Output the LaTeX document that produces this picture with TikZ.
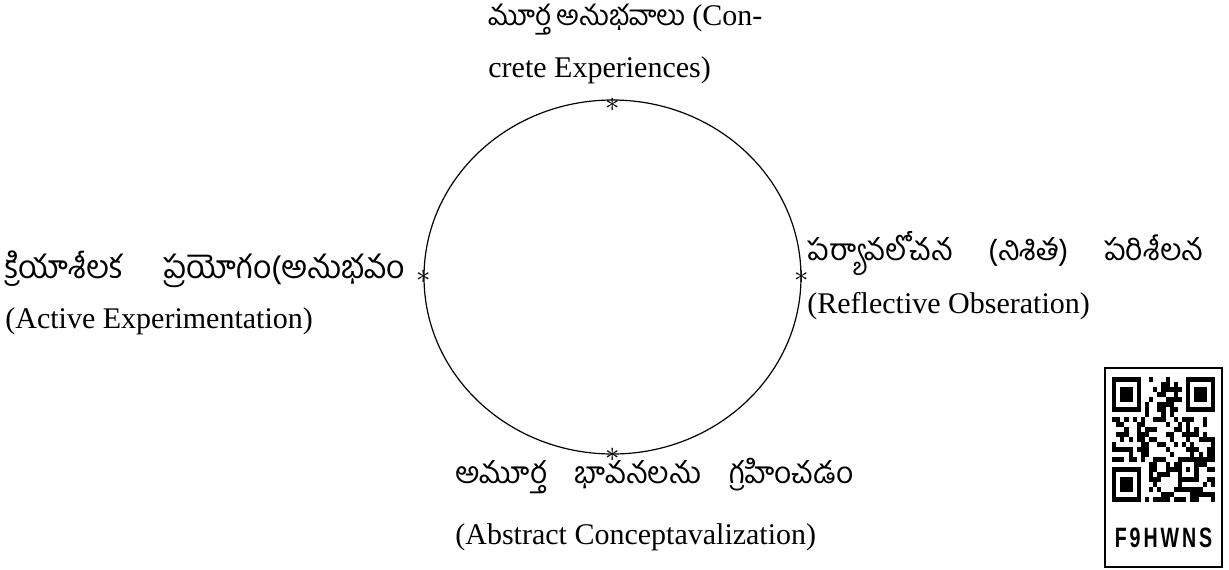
\documentclass[tikz,border=0pt]{standalone}
\usepackage{fontspec}
\setmainfont{Liberation Serif}
\newfontfamily\telugu[Script=Telugu]{Hind Guntur}
\newfontfamily\qrfont{Liberation Sans}
\usetikzlibrary{shapes.geometric}

\begin{document}
\begin{tikzpicture}[x=0.5pt,y=-0.5pt,
  lbl/.style={anchor=base west,inner sep=0pt,font=\fontsize{15}{18}\selectfont},
  starmark/.style={inner sep=0pt,font=\fontsize{15}{15}\selectfont}]
  \useasboundingbox (0,0) rectangle (1229,569);
  \node[draw,ellipse,inner sep=0pt,line width=0.6pt,
    minimum width=188.5pt,minimum height=177pt] (cycle) at (612.5,277) {};
  \foreach \a/\s in {north/-2.5pt,south/0pt,east/0pt,west/0pt}
    \node[starmark,yshift=\s] (star-\a) at (cycle.\a) {$\ast$};

  \node[lbl] (concrete) at (488,25)
    {\makebox[137pt][s]{{\telugu\fontsize{14}{18}\selectfont మూర్త అనుభవాలు} (Con-}};
  \node[lbl] (concrete2) at (488,77) {crete Experiences)};
  \node[lbl] (active) at (5,278)
    {\makebox[200pt][s]{\telugu\fontsize{16}{18}\selectfont క్రియాశీలక ప్రయోగం(అనుభవం}};
  \node[lbl] (active2) at (5,328) {(Active Experimentation)};
  \node[lbl] (reflect) at (807,260)
    {\makebox[198pt][s]{\telugu పర్యావలోచన (నిశిత) పరిశీలన}};
  \node[lbl] (reflect2) at (807,313) {(Reflective Obseration)};
  \node[lbl] (abstract) at (455,483)
    {\makebox[199pt][s]{\telugu అమూర్త భావనలను గ్రహించడం}};
  \node[lbl] (abstract2) at (455,544) {(Abstract Conceptavalization)};

  % qr code
  \draw[line width=1pt] (1105,368) rectangle (1222,567);
  \def\qx{1112} \def\qy{377} \def\qw{4.12} \def\qh{5.0}
  \pgfmathsetseed{4711}
  \foreach \i in {0,...,24}{
    \foreach \j in {0,...,24}{
      \pgfmathtruncatemacro{\qrskip}{((\i<8 && \j<8) || (\i>16 && \j<8) || (\i<8 && \j>16) || (\i>15 && \i<21 && \j>15 && \j<21)) ? 1 : 0}
      \pgfmathtruncatemacro{\qrbit}{rnd<0.5 ? 1 : 0}
      \ifnum\qrskip=0 \ifnum\qrbit=1
        \fill (\qx+\i*\qw,\qy+\j*\qh) rectangle ++(\qw,\qh);
      \fi\fi
    }
  }
  \foreach \fx/\fy in {0/0,18/0,0/18}{
    \fill (\qx+\fx*\qw,\qy+\fy*\qh) rectangle ++(7*\qw,7*\qh);
    \fill[white] (\qx+\fx*\qw+\qw,\qy+\fy*\qh+\qh) rectangle ++(5*\qw,5*\qh);
    \fill (\qx+\fx*\qw+2*\qw,\qy+\fy*\qh+2*\qh) rectangle ++(3*\qw,3*\qh);
  }
  \fill (\qx+16*\qw,\qy+16*\qh) rectangle ++(5*\qw,5*\qh);
  \fill[white] (\qx+17*\qw,\qy+17*\qh) rectangle ++(3*\qw,3*\qh);
  \fill (\qx+18*\qw,\qy+18*\qh) rectangle ++(\qw,\qh);
  \node[xscale=0.7,font=\qrfont\bfseries\fontsize{14}{14}\selectfont\addfontfeature{LetterSpace=15}]
    (qrcode) at (1163.5,538) {F9HWNS};
\end{tikzpicture}
\end{document}
